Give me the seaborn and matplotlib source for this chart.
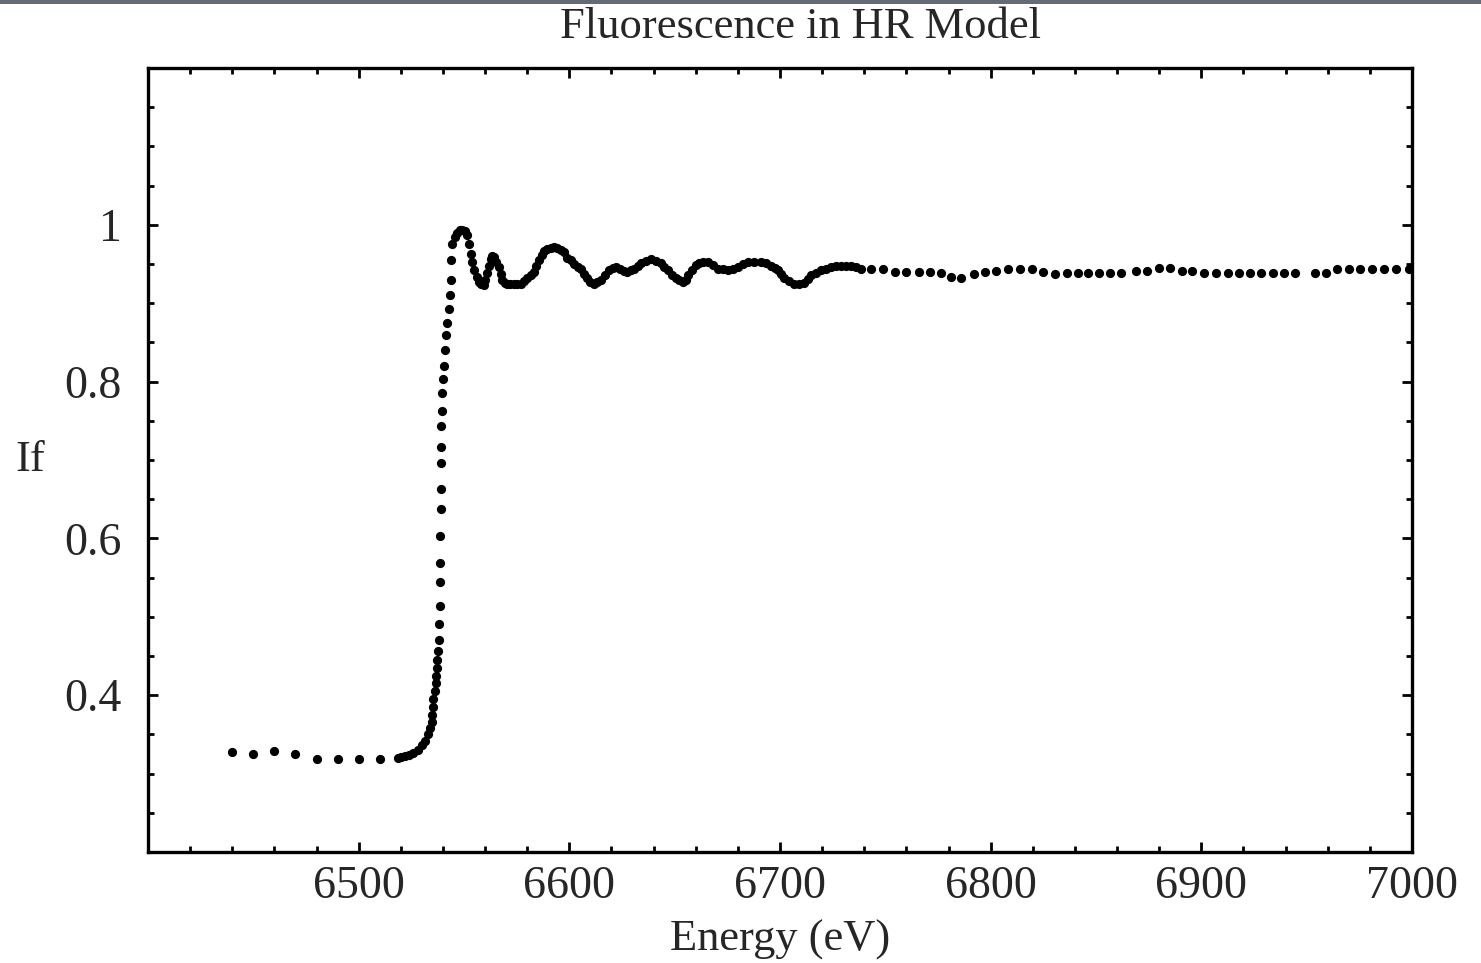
import matplotlib
matplotlib.use("Agg")
import matplotlib.pyplot as plt
from matplotlib.patches import Rectangle
from matplotlib.ticker import FixedLocator, FixedFormatter
import numpy as np
import pandas as pd
import seaborn as sns

# Pre-edge samples (coarse grid)
energy_pre = [6440, 6450, 6460, 6470, 6480, 6490, 6500, 6510]
if_pre = [0.328, 0.325, 0.329, 0.325, 0.318, 0.318, 0.318, 0.318]

# Edge and near-edge region (fine grid)
energy_edge = [
    6518.5, 6520, 6522, 6524, 6526, 6528, 6530, 6531.5, 6533, 6534,
    6534.8, 6535, 6535.2, 6535.5, 6536, 6536.5, 6536.8, 6537, 6537.4, 6537.8,
    6538.1, 6538.3, 6538.4, 6538.5, 6538.6, 6538.7, 6539.2, 6539.3, 6539.3, 6539.3,
    6539.3, 6539.4, 6539.5, 6540, 6540.5, 6541, 6541.5, 6542, 6542.8, 6543.2,
    6543.6, 6544, 6544.4, 6545.5, 6546.8, 6548, 6549.1, 6550.3, 6551.5, 6552.3,
    6553.1, 6554, 6554.7, 6556, 6557.1, 6558.3, 6559.4, 6560.2, 6561, 6561.8,
    6562.6, 6563.4, 6564.2, 6565.4, 6566.6, 6567.4, 6568.2, 6569.4, 6570.6, 6572,
    6573.7, 6575.3, 6576.9, 6578.5, 6580.1, 6581.7, 6583.2, 6584.4, 6585.6, 6586.8,
    6588, 6589.6, 6591.2, 6592.8, 6594.3, 6596, 6597.5, 6599.1, 6600.7, 6602.3,
]
if_edge = [
    0.320, 0.321, 0.322, 0.324, 0.326, 0.330, 0.336, 0.342, 0.350, 0.358,
    0.366, 0.375, 0.385, 0.395, 0.405, 0.415, 0.425, 0.435, 0.445, 0.456,
    0.470, 0.491, 0.514, 0.544, 0.569, 0.603, 0.637, 0.663, 0.696, 0.717,
    0.744, 0.762, 0.785, 0.803, 0.820, 0.840, 0.860, 0.875, 0.893, 0.910,
    0.930, 0.955, 0.976, 0.985, 0.989, 0.993, 0.994, 0.992, 0.987, 0.976,
    0.963, 0.952, 0.942, 0.933, 0.927, 0.924, 0.923, 0.930, 0.938, 0.948,
    0.957, 0.960, 0.959, 0.953, 0.946, 0.937, 0.929, 0.926, 0.925, 0.924,
    0.924, 0.924, 0.925, 0.928, 0.932, 0.936, 0.940, 0.947, 0.955, 0.961,
    0.966, 0.969, 0.971, 0.972, 0.971, 0.968, 0.965, 0.958, 0.955, 0.950,
]

# EXAFS oscillations (fine grid)
energy_osc = [
    6603.9, 6605.4, 6607, 6608.6, 6610, 6611.5, 6613, 6614.9, 6617, 6618.9,
    6620.5, 6622.1, 6624, 6626, 6627.6, 6629.2, 6630.8, 6632.4, 6634, 6636.3,
    6638.7, 6641, 6643.5, 6645, 6646.7, 6648.6, 6650.6, 6652.2, 6653.8, 6655.4,
    6656.5, 6658, 6660, 6661.5, 6663.5, 6665.6, 6668, 6670.4, 6672.8, 6675.2,
    6677.5, 6679.9, 6682.3, 6684.7, 6687.8, 6691, 6693.4, 6695.8, 6697.4, 6698.9,
    6700.5, 6702.1, 6704.5, 6706.8, 6709.2, 6711.6, 6713.2, 6714.8, 6717.2, 6719.5,
    6721.9, 6724.3, 6726.7, 6729, 6731.4, 6733.8, 6736.2, 6738.6,
]
if_osc = [
    0.946, 0.943, 0.937, 0.932, 0.927, 0.925, 0.927, 0.930, 0.936, 0.942,
    0.945, 0.946, 0.944, 0.941, 0.940, 0.942, 0.944, 0.948, 0.951, 0.954,
    0.956, 0.954, 0.951, 0.946, 0.942, 0.936, 0.932, 0.929, 0.927, 0.929,
    0.936, 0.942, 0.949, 0.951, 0.953, 0.953, 0.949, 0.944, 0.943, 0.942,
    0.944, 0.946, 0.950, 0.953, 0.953, 0.953, 0.951, 0.948, 0.945, 0.942,
    0.937, 0.932, 0.928, 0.925, 0.925, 0.926, 0.931, 0.936, 0.939, 0.942,
    0.944, 0.946, 0.947, 0.948, 0.948, 0.948, 0.946, 0.944,
]

# Extended tail (coarse grid)
energy_tail = [
    6743.3, 6748.9, 6754.4, 6759.9, 6765.8, 6771.0, 6776.2, 6781.0, 6786.1, 6791.9,
    6797.5, 6802.7, 6808.3, 6813.8, 6819.4, 6824.9, 6830.5, 6836.0, 6841.3, 6846.4,
    6851.4, 6856.6, 6861.9, 6868.9, 6874.1, 6880.0, 6885.2, 6890.8, 6895.8, 6901.5,
    6906.9, 6912.5, 6917.7, 6922.9, 6928.3, 6933.8, 6939.1, 6944.6, 6953.8, 6959.3,
    6964.4, 6970.3, 6975.5, 6981.1, 6986.6, 6992.2, 6998.5,
]
if_tail = [
    0.944, 0.944, 0.940, 0.940, 0.940, 0.940, 0.938, 0.933, 0.932, 0.937,
    0.940, 0.941, 0.944, 0.944, 0.943, 0.940, 0.937, 0.938, 0.938, 0.938,
    0.938, 0.938, 0.938, 0.941, 0.941, 0.945, 0.945, 0.941, 0.941, 0.938,
    0.938, 0.938, 0.938, 0.938, 0.938, 0.938, 0.938, 0.938, 0.939, 0.939,
    0.943, 0.943, 0.943, 0.943, 0.943, 0.943, 0.943,
]

x_major = [6500, 6600, 6700, 6800, 6900, 7000]
x_major_labels = ["6500", "6600", "6700", "6800", "6900", "7000"]
y_major = [0.4, 0.6, 0.8, 1.0]
y_major_labels = ["0.4", "0.6", "0.8", "1"]

df = pd.DataFrame({
    "Energy": energy_pre + energy_edge + energy_osc + energy_tail,
    "If": if_pre + if_edge + if_osc + if_tail,
})

sns.set_style("white")
plt.rcParams["font.family"] = ["Liberation Serif", "DejaVu Serif"]

fig = plt.figure(figsize=(14.81, 9.63), dpi=100)
ax = fig.add_axes([148 / 1481, 1 - 852 / 963, (1412 - 148) / 1481, (852 - 68) / 963])

sns.scatterplot(data=df, x="Energy", y="If", ax=ax, color="black",
                s=44, linewidth=0, marker="o", legend=False, zorder=3)

ax.set_xlim(6400, 7000)
ax.set_ylim(0.2, 1.2)

# Frame ticks: major + minor, pointing inward on all four sides
ax.xaxis.set_major_locator(FixedLocator(x_major))
ax.xaxis.set_major_formatter(FixedFormatter(x_major_labels))
ax.xaxis.set_minor_locator(FixedLocator(np.arange(6420, 7000, 20)))
ax.yaxis.set_major_locator(FixedLocator(y_major))
ax.yaxis.set_major_formatter(FixedFormatter(y_major_labels))
ax.yaxis.set_minor_locator(FixedLocator(np.round(np.arange(0.25, 1.2, 0.05), 2)))

ax.tick_params(which="both", direction="in", top=True, right=True,
               bottom=True, left=True, color="black", width=2.0)
ax.tick_params(which="major", length=7.5, labelsize=33)
ax.tick_params(which="minor", length=4.5)
ax.tick_params(axis="x", which="major", pad=10)
ax.tick_params(axis="y", which="major", pad=19)

for sp in ax.spines.values():
    sp.set_visible(True)
    sp.set_color("black")
    sp.set_linewidth(2.4)

ax.set_xlabel("Energy (eV)", fontsize=32, labelpad=8)
ax.set_ylabel("If", fontsize=32, rotation=0, ha="center", va="center")
ax.yaxis.set_label_coords(-0.0935, 0.5)

fig.text(801 / 1481, 1 - 27 / 963, "Fluorescence in HR Model",
         ha="center", va="center", fontsize=32)

# thin dark band along the top edge
fig.patches.append(Rectangle((0, 1 - 4 / 963), 1, 4 / 963, transform=fig.transFigure,
                             facecolor="#666a74", edgecolor="none", zorder=10))

fig.savefig("out.png", dpi=100)
